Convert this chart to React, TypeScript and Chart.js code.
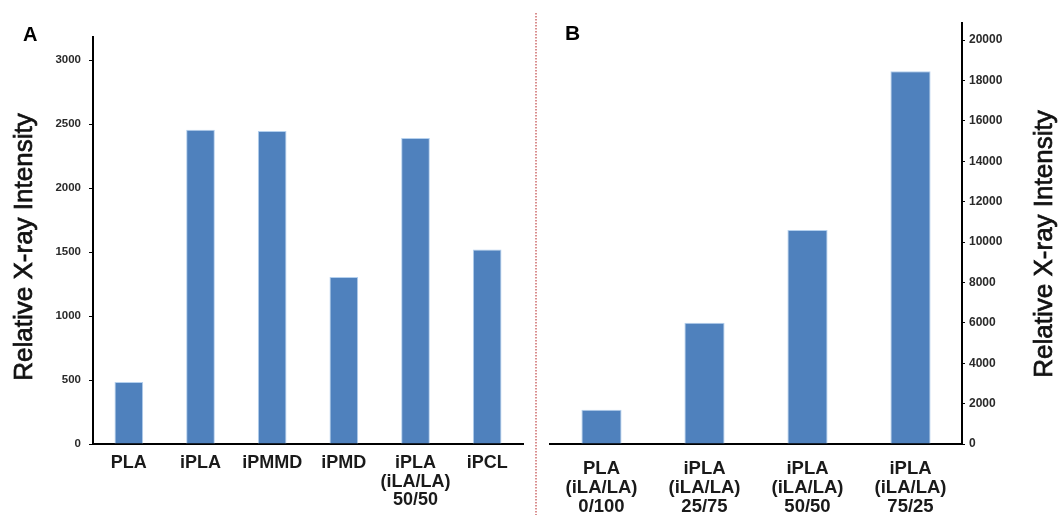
import React, { useEffect, useRef } from 'react';
import { Chart, registerables } from 'chart.js';

Chart.register(...registerables);

// ---------- data ----------
const categoriesA: string[][] = [
  ['PLA'],
  ['iPLA'],
  ['iPMMD'],
  ['iPMD'],
  ['iPLA', '(iLA/LA)', '50/50'],
  ['iPCL'],
];
const valuesA: number[] = [485, 2455, 2445, 1305, 2390, 1520];
const ticksA: number[] = [0, 500, 1000, 1500, 2000, 2500, 3000];

const categoriesB: string[][] = [
  ['PLA', '(iLA/LA)', '0/100'],
  ['iPLA', '(iLA/LA)', '25/75'],
  ['iPLA', '(iLA/LA)', '50/50'],
  ['iPLA', '(iLA/LA)', '75/25'],
];
const valuesB: number[] = [1700, 6000, 10600, 18450];
const ticksB: number[] = [0, 2000, 4000, 6000, 8000, 10000, 12000, 14000, 16000, 18000, 20000];

const axisTitle = 'Relative X-ray Intensity';
const panelLabelA = 'A';
const panelLabelB = 'B';

// ---------- styles ----------
const FONT = "'Liberation Sans', Arial, Helvetica, sans-serif";
const BAR_COLOR = '#4F81BD';
const BAR_EDGE = '#B4D0EE';

function drawRotatedTitle(ctx: CanvasRenderingContext2D, x: number, y: number) {
  ctx.save();
  ctx.translate(x, y);
  ctx.rotate(-Math.PI / 2);
  ctx.font = `26px ${FONT}`;
  ctx.fillStyle = '#111';
  ctx.strokeStyle = '#111';
  ctx.lineWidth = 0.7;
  ctx.textAlign = 'center';
  ctx.textBaseline = 'middle';
  ctx.fillText(axisTitle, 0, 0);
  ctx.strokeText(axisTitle, 0, 0);
  ctx.restore();
}

function drawPanelLabel(ctx: CanvasRenderingContext2D, text: string, x: number, y: number, size: number) {
  ctx.save();
  ctx.font = `bold ${size}px ${FONT}`;
  ctx.fillStyle = '#000';
  ctx.textAlign = 'left';
  ctx.textBaseline = 'alphabetic';
  ctx.fillText(text, x, y);
  ctx.restore();
}

const plainNumber = (v: any) => String(v);

export default function App() {
  const refA = useRef<HTMLCanvasElement>(null);
  const refB = useRef<HTMLCanvasElement>(null);

  useEffect(() => {
    if (!refA.current || !refB.current) return;

    const chartA = new Chart(refA.current, {
      type: 'bar',
      data: {
        labels: categoriesA,
        datasets: [
          {
            data: valuesA,
            backgroundColor: BAR_COLOR,
            borderColor: BAR_EDGE,
            borderWidth: 1,
            barPercentage: 0.4,
            categoryPercentage: 1,
          },
        ],
      },
      options: {
        animation: false,
        responsive: false,
        devicePixelRatio: 1,
        layout: { padding: { left: 0, right: 13, top: 37, bottom: 0 } },
        plugins: { legend: { display: false }, tooltip: { enabled: false }, title: { display: false } },
        scales: {
          x: {
            type: 'category',
            grid: { display: false },
            border: { display: true, color: '#000', width: 2 },
            ticks: {
              color: '#1a1a1a',
              padding: 2,
              maxRotation: 0,
              autoSkip: false,
              font: { family: FONT, size: 18, weight: 'bold', lineHeight: 1.03 },
            },
            afterFit: (s: any) => {
              s.height = 71;
            },
          },
          y: {
            position: 'left',
            min: 0,
            max: 3180,
            afterBuildTicks: (s: any) => {
              s.ticks = ticksA.map((v) => ({ value: v }));
            },
            grid: { display: true, drawOnChartArea: false, drawTicks: true, tickLength: 4, color: '#000' },
            border: { display: true, color: '#000', width: 2 },
            ticks: {
              color: '#2a2a2a',
              padding: 8,
              callback: plainNumber,
              font: { family: FONT, size: 11.5, weight: 'bold' },
            },
            afterFit: (s: any) => {
              s.width = 93;
            },
          },
        },
      },
      plugins: [
        {
          id: 'decorA',
          afterDraw: (chart: any) => {
            const ctx = chart.ctx as CanvasRenderingContext2D;
            drawRotatedTitle(ctx, 25, 247);
            drawPanelLabel(ctx, panelLabelA, 23, 41, 20);
          },
        },
      ],
    } as any);

    const chartB = new Chart(refB.current, {
      type: 'bar',
      data: {
        labels: categoriesB,
        datasets: [
          {
            data: valuesB,
            backgroundColor: BAR_COLOR,
            borderColor: BAR_EDGE,
            borderWidth: 1,
            barPercentage: 0.39,
            categoryPercentage: 1,
          },
        ],
      },
      options: {
        animation: false,
        responsive: false,
        devicePixelRatio: 1,
        layout: { padding: { left: 16, right: 0, top: 23, bottom: 0 } },
        plugins: { legend: { display: false }, tooltip: { enabled: false }, title: { display: false } },
        scales: {
          x: {
            type: 'category',
            grid: { display: false },
            border: { display: true, color: '#000', width: 2 },
            ticks: {
              color: '#1a1a1a',
              padding: 7.5,
              maxRotation: 0,
              autoSkip: false,
              font: { family: FONT, size: 18.5, weight: 'bold', lineHeight: 1.03 },
            },
            afterFit: (s: any) => {
              s.height = 71;
            },
          },
          y: {
            position: 'right',
            min: 0,
            max: 20842,
            afterBuildTicks: (s: any) => {
              s.ticks = ticksB.map((v) => ({ value: v }));
            },
            grid: { display: true, drawOnChartArea: false, drawTicks: true, tickLength: 3, color: '#000' },
            border: { display: true, color: '#000', width: 2 },
            ticks: {
              color: '#2a2a2a',
              padding: 4,
              callback: plainNumber,
              font: { family: FONT, size: 12, weight: 'bold' },
            },
            afterFit: (s: any) => {
              s.width = 102;
            },
          },
        },
      },
      plugins: [
        {
          id: 'decorB',
          afterDraw: (chart: any) => {
            const ctx = chart.ctx as CanvasRenderingContext2D;
            // dotted divider between panels
            ctx.save();
            ctx.strokeStyle = 'rgba(196, 80, 80, 0.85)';
            ctx.lineWidth = 1.5;
            ctx.setLineDash([1.5, 1.5]);
            ctx.beginPath();
            ctx.moveTo(2, 13);
            ctx.lineTo(2, 515);
            ctx.stroke();
            ctx.restore();
            drawRotatedTitle(ctx, 511, 244);
            drawPanelLabel(ctx, panelLabelB, 31, 40, 21);
          },
        },
      ],
    } as any);

    return () => {
      chartA.destroy();
      chartB.destroy();
    };
  }, []);

  return (
    <div style={{ position: 'absolute', left: 0, top: 0, width: 1064, height: 515, background: '#fff', overflow: 'hidden' }}>
      <canvas ref={refA} width={536} height={515} style={{ position: 'absolute', left: 0, top: 0, width: 536, height: 515 }} />
      <canvas ref={refB} width={530} height={515} style={{ position: 'absolute', left: 534, top: 0, width: 530, height: 515 }} />
    </div>
  );
}
